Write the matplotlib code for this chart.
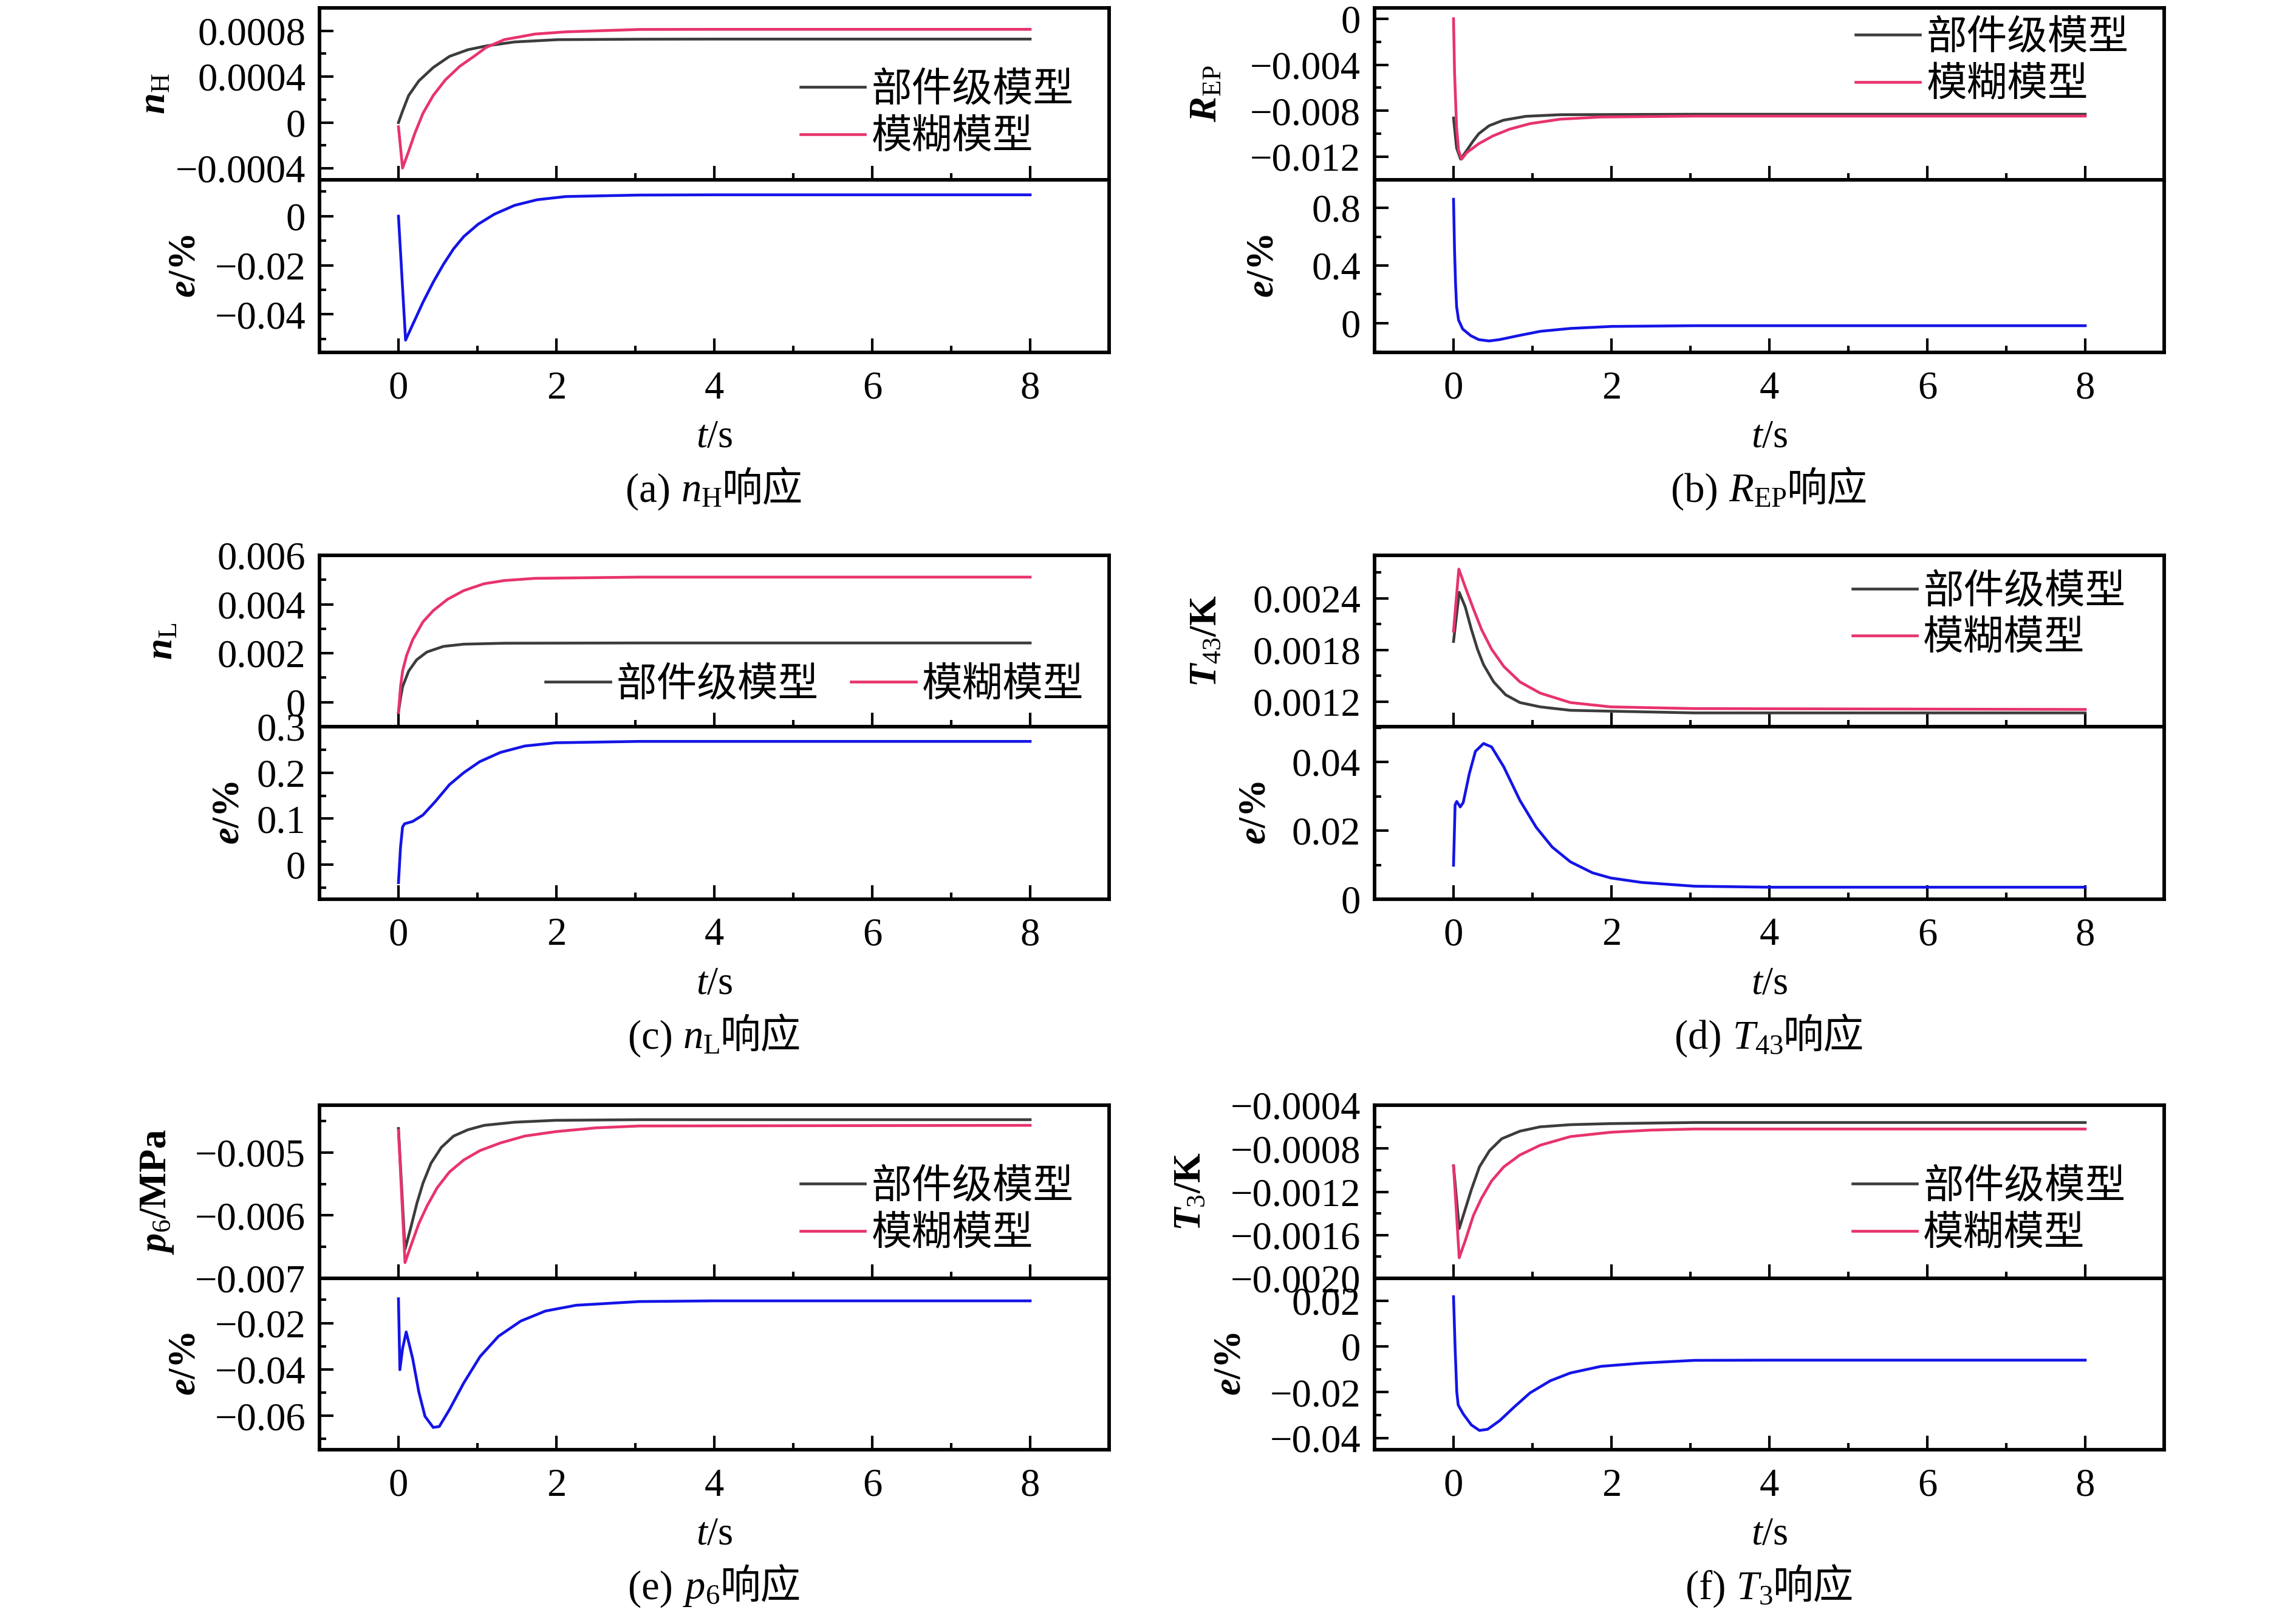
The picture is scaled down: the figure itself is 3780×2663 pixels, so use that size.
import matplotlib
matplotlib.use('Agg')
import matplotlib.pyplot as plt
from matplotlib.ticker import FixedLocator, MultipleLocator, FuncFormatter
from matplotlib.offsetbox import TextArea, HPacker, AnnotationBbox

plt.rcParams['font.family'] = ['Liberation Serif', 'Noto Sans CJK SC']
plt.rcParams['mathtext.fontset'] = 'custom'
plt.rcParams['mathtext.rm'] = 'Liberation Serif'
plt.rcParams['mathtext.it'] = 'Liberation Serif:italic'
plt.rcParams['mathtext.bf'] = 'Liberation Serif:bold'
plt.rcParams['mathtext.bfit'] = 'Liberation Serif:italic:bold'

# ---- data ----
legend_labels = ['部件级模型', '模糊模型']
x_ticks = [0, 2, 4, 6, 8]

# (a) n_H
a_t_comp = [0, 0.052, 0.129, 0.258, 0.44, 0.646, 0.879, 1.11, 1.47, 2.02, 3.05, 4, 8]
a_comp = [0.0, 0.0001, 0.000236, 0.000363, 0.00048, 0.000577, 0.000635, 0.000668, 0.000703,
          0.000723, 0.000727, 0.000728, 0.000728]
a_t_fuzzy = [0, 0.052, 0.129, 0.207, 0.31, 0.44, 0.594, 0.775, 0.956, 1.11, 1.34, 1.73, 2.12, 3.05, 4, 8]
a_fuzzy = [-0.000037, -0.000397, -0.000251, -0.000095, 0.00008, 0.000236, 0.000372, 0.00049,
           0.000577, 0.000655, 0.000723, 0.000772, 0.000791, 0.000812, 0.000813, 0.000813]
a_t_err = [0, 0.09, 0.18, 0.31, 0.44, 0.568, 0.698, 0.827, 1.008, 1.214, 1.47, 1.757, 2.12, 3.05, 4, 8]
a_err = [0.0, -0.0505, -0.0442, -0.0351, -0.0269, -0.0197, -0.0133, -0.0083, -0.0033, 0.0008,
         0.0044, 0.0067, 0.008, 0.0086, 0.0087, 0.0087]
a_top_ticks = [-0.0004, 0, 0.0004, 0.0008]
a_err_ticks = [-0.04, -0.02, 0]

# (b) R_EP
b_t_comp = [0, 0.039, 0.09, 0.168, 0.245, 0.32, 0.45, 0.63, 0.915, 1.35, 3.05, 8]
b_comp = [-0.00863, -0.01124, -0.0122, -0.01144, -0.01066, -0.00999, -0.0093, -0.00882, -0.00848,
          -0.00834, -0.0083, -0.0083]
b_t_fuzzy = [0, 0.013, 0.039, 0.064, 0.103, 0.168, 0.32, 0.5, 0.709, 0.966, 1.35, 1.87, 3.05, 8]
b_fuzzy = [0.0, -0.00467, -0.0095, -0.01144, -0.0122, -0.01163, -0.01086, -0.01018, -0.0096,
           -0.00912, -0.00873, -0.00854, -0.00846, -0.00846]
b_t_err = [0, 0.013, 0.026, 0.039, 0.064, 0.116, 0.22, 0.32, 0.45, 0.58, 0.84, 1.1, 1.48, 2.0, 3.05, 8]
b_err = [0.86, 0.502, 0.268, 0.113, 0.02, -0.042, -0.089, -0.116, -0.125, -0.116, -0.086, -0.058,
         -0.038, -0.024, -0.019, -0.019]
b_top_ticks = [-0.012, -0.008, -0.004, 0]
b_err_ticks = [0, 0.4, 0.8]

# (c) n_L
c_t_comp = [0, 0.026, 0.052, 0.129, 0.23, 0.36, 0.57, 0.827, 1.34, 3.05, 8]
c_comp = [-0.00042, 0.00017, 0.00063, 0.00127, 0.00173, 0.00205, 0.00228, 0.00237, 0.00241,
          0.00242, 0.00242]
c_t_fuzzy = [0, 0.026, 0.052, 0.103, 0.18, 0.31, 0.44, 0.62, 0.827, 1.085, 1.34, 1.73, 3.05, 8]
c_fuzzy = [-0.00042, 0.00063, 0.00127, 0.00191, 0.00255, 0.00328, 0.00374, 0.0042, 0.00456,
           0.00484, 0.00497, 0.00506, 0.00511, 0.00511]
c_t_err = [0, 0.026, 0.052, 0.078, 0.18, 0.31, 0.465, 0.646, 0.827, 1.03, 1.29, 1.6, 1.99, 3.05, 8]
c_err = [-0.039, 0.038, 0.082, 0.089, 0.094, 0.108, 0.137, 0.174, 0.2, 0.224, 0.244, 0.258,
         0.265, 0.268, 0.268]
c_top_ticks = [0, 0.002, 0.004, 0.006]
c_err_ticks = [0, 0.1, 0.2, 0.3]

# (d) T_43
d_t_comp = [0, 0.072, 0.149, 0.226, 0.303, 0.38, 0.508, 0.66, 0.841, 1.097, 1.48, 1.99, 3.05, 8]
d_comp = [0.0019, 0.00247, 0.0023, 0.00204, 0.00181, 0.00163, 0.00143, 0.00128, 0.00119, 0.00114,
          0.0011, 0.00109, 0.00107, 0.00107]
d_t_fuzzy = [0, 0.067, 0.149, 0.251, 0.354, 0.482, 0.636, 0.841, 1.097, 1.48, 1.99, 3.05, 8]
d_fuzzy = [0.00202, 0.00274, 0.00253, 0.00228, 0.00204, 0.00181, 0.00161, 0.00143, 0.0013, 0.00119,
           0.00114, 0.00112, 0.00111]
d_t_err = [0, 0.02, 0.041, 0.085, 0.123, 0.2, 0.277, 0.38, 0.482, 0.636, 0.841, 1.046, 1.25, 1.48,
           1.76, 1.99, 2.38, 3.05, 4, 8]
d_err = [0.0099, 0.0275, 0.0285, 0.0269, 0.0282, 0.0366, 0.0431, 0.0454, 0.0444, 0.0386, 0.0288,
         0.021, 0.0152, 0.0109, 0.0077, 0.0062, 0.0049, 0.0038, 0.0035, 0.0035]
d_top_ticks = [0.0012, 0.0018, 0.0024]
d_err_ticks = [0, 0.02, 0.04]

# (e) p_6
e_t_comp = [0, 0.083, 0.155, 0.233, 0.31, 0.413, 0.543, 0.698, 0.879, 1.085, 1.47, 1.99, 3.05, 8]
e_comp = [-0.00462, -0.00654, -0.0062, -0.00581, -0.00549, -0.00517, -0.00492, -0.00474, -0.00464,
          -0.00457, -0.00452, -0.00449, -0.00448, -0.00448]
e_t_fuzzy = [0, 0.083, 0.155, 0.258, 0.362, 0.491, 0.646, 0.827, 1.034, 1.29, 1.6, 1.99, 2.5, 3.05, 8]
e_fuzzy = [-0.00465, -0.00675, -0.00649, -0.00613, -0.00585, -0.00556, -0.00531, -0.00512, -0.00497,
           -0.00485, -0.00474, -0.00467, -0.00461, -0.00458, -0.00457]
e_t_err = [0, 0.018, 0.052, 0.098, 0.18, 0.258, 0.336, 0.44, 0.517, 0.646, 0.827, 1.034, 1.266, 1.55,
           1.86, 2.25, 3.05, 4, 8]
e_err = [-0.0095, -0.0401, -0.031, -0.0238, -0.0353, -0.0497, -0.0602, -0.065, -0.0646, -0.0573,
         -0.0458, -0.0344, -0.0257, -0.0191, -0.0148, -0.0123, -0.0107, -0.0104, -0.0104]
e_top_ticks = [-0.007, -0.006, -0.005]
e_err_ticks = [-0.06, -0.04, -0.02]

# (f) T_3
f_t_comp = [0, 0.072, 0.149, 0.226, 0.328, 0.456, 0.61, 0.841, 1.097, 1.48, 1.99, 3.05, 8]
f_comp = [-0.00096, -0.00154, -0.00136, -0.00118, -0.00097, -0.00082, -0.00071, -0.00064, -0.0006,
          -0.00058, -0.00057, -0.00056, -0.00056]
f_t_fuzzy = [0, 0.072, 0.149, 0.251, 0.354, 0.482, 0.636, 0.841, 1.097, 1.48, 1.99, 2.5, 3.05, 8]
f_fuzzy = [-0.00096, -0.00181, -0.00165, -0.00142, -0.00126, -0.0011, -0.00097, -0.00086, -0.00077,
           -0.00069, -0.00065, -0.00063, -0.00062, -0.00062]
f_t_err = [0, 0.02, 0.041, 0.059, 0.123, 0.226, 0.328, 0.431, 0.585, 0.764, 0.969, 1.226, 1.48, 1.87,
           2.38, 3.05, 4, 8]
f_err = [0.0217, -0.0006, -0.0198, -0.0256, -0.0295, -0.0343, -0.0367, -0.0362, -0.0324, -0.0266,
         -0.0203, -0.015, -0.0116, -0.0087, -0.0073, -0.0061, -0.006, -0.006]
f_top_ticks = [-0.002, -0.0016, -0.0012, -0.0008, -0.0004]
f_err_ticks = [-0.04, -0.02, 0, 0.02]

# ---- styling ----
C_COMP = '#3c3c3c'
C_FUZZY = '#e8336c'
C_ERR = '#1414e6'
TICK_FS = 15.5
LEG_FS = 16
W, H = 3780, 2663
CJK = 'Noto Sans CJK SC'


def num_fmt(decimals):
    def f(v, pos):
        if abs(v) < 1e-12:
            return '0'
        return '{0:.{1}f}'.format(v, decimals).replace('-', '\u2212')
    return FuncFormatter(f)


def style_axes(ax, yticks, ylim, decimals):
    ax.set_xlim(-1, 9)
    ax.xaxis.set_major_locator(FixedLocator(x_ticks))
    ax.xaxis.set_minor_locator(MultipleLocator(1))
    ax.set_ylim(*ylim)
    ax.yaxis.set_major_locator(FixedLocator(yticks))
    ax.yaxis.set_minor_locator(MultipleLocator((yticks[1] - yticks[0]) / 2))
    ax.yaxis.set_major_formatter(num_fmt(decimals))
    ax.tick_params(which='both', direction='in', top=False, right=False,
                   labelsize=TICK_FS, width=1.0)
    ax.tick_params(which='major', length=5.5)
    ax.tick_params(which='minor', length=2.7)
    ax.tick_params(axis='x', which='major', pad=7.2)
    ax.tick_params(axis='y', which='major', pad=5.5)
    for s in ax.spines.values():
        s.set_linewidth(1.4)


fig = plt.figure(figsize=(W / 300, H / 300), dpi=300)

col_left = [526, 2263]
ax_w = 1300
rows = [(13, 296, 580), (914, 1196, 1480), (1819, 2104, 2386)]


def rect(x0, y_top, y_bot):
    return [x0 / W, 1 - y_bot / H, ax_w / W, (y_bot - y_top) / H]


panels = [
    (0, 0, a_t_comp, a_comp, a_t_fuzzy, a_fuzzy, a_t_err, a_err,
     a_top_ticks, (-0.0005, 0.001), 4, r'$\mathbfit{n}_{\mathrm{H}}$',
     a_err_ticks, (-0.0555, 0.0148), 2, ('(a) ', r'$n_{\mathrm{H}}$', '响应'),
     dict(ncol=1, loc='center right', bbox_to_anchor=(0.955, 0.386)), (-0.185, -0.147)),
    (1, 0, b_t_comp, b_comp, b_t_fuzzy, b_fuzzy, b_t_err, b_err,
     b_top_ticks, (-0.014, 0.00094), 3, r'$\mathbfit{R}_{\mathrm{EP}}$',
     b_err_ticks, (-0.2046, 0.995), 1, ('(b) ', r'$R_{\mathrm{EP}}$', '响应'),
     dict(ncol=1, loc='center right', bbox_to_anchor=(0.955, 0.69)), (-0.19, -0.118)),
    (0, 1, c_t_comp, c_comp, c_t_fuzzy, c_fuzzy, c_t_err, c_err,
     c_top_ticks, (-0.001, 0.006), 3, r'$\mathbfit{n}_{\mathrm{L}}$',
     c_err_ticks, (-0.075, 0.3), 1, ('(c) ', r'$n_{\mathrm{L}}$', '响应'),
     dict(ncol=2, loc='center right', bbox_to_anchor=(0.968, 0.245)), (-0.176, -0.092)),
    (1, 1, d_t_comp, d_comp, d_t_fuzzy, d_fuzzy, d_t_err, d_err,
     d_top_ticks, (0.00091, 0.0029), 4, r'$\mathbfit{T}_{\mathrm{43}}\mathbf{/K}$',
     d_err_ticks, (0, 0.0503), 2, ('(d) ', r'$T_{\mathrm{43}}$', '响应'),
     dict(ncol=1, loc='center right', bbox_to_anchor=(0.951, 0.652)), (-0.19, -0.128)),
    (0, 2, e_t_comp, e_comp, e_t_fuzzy, e_fuzzy, e_t_err, e_err,
     e_top_ticks, (-0.007, -0.00425), 3, r'$\mathbfit{p}_{\mathrm{6}}\mathbf{/MPa}$',
     e_err_ticks, (-0.0746, -0.0007), 2, ('(e) ', r'$p_{\mathrm{6}}$', '响应'),
     dict(ncol=1, loc='center right', bbox_to_anchor=(0.955, 0.395)), (-0.182, -0.147)),
    (1, 2, f_t_comp, f_comp, f_t_fuzzy, f_fuzzy, f_t_err, f_err,
     f_top_ticks, (-0.002, -0.0004), 4, r'$\mathbfit{T}_{\mathrm{3}}\mathbf{/K}$',
     f_err_ticks, (-0.0451, 0.0297), 2, ('(f) ', r'$T_{\mathrm{3}}$', '响应'),
     dict(ncol=1, loc='center right', bbox_to_anchor=(0.951, 0.395)), (-0.21, -0.16)),
]

for (col, row, tc, yc, tf, yf, te, ye, tticks, tlim, tdec, tlabel,
     eticks, elim, edec, cap, leg, lab_x) in panels:
    top, mid, bot = rows[row]
    ax1 = fig.add_axes(rect(col_left[col], top, mid))
    ax2 = fig.add_axes(rect(col_left[col], mid, bot))

    ax1.plot(tc, yc, color=C_COMP, lw=1.1, label=legend_labels[0], solid_joinstyle='round')
    ax1.plot(tf, yf, color=C_FUZZY, lw=1.1, label=legend_labels[1], solid_joinstyle='round')
    style_axes(ax1, tticks, tlim, tdec)
    ax1.tick_params(labelbottom=False)
    ax1.set_ylabel(tlabel, fontsize=15)
    ax1.yaxis.set_label_coords(lab_x[0], 0.5)
    ax1.legend(frameon=False, prop={'family': CJK, 'size': LEG_FS},
               handlelength=1.6, handletextpad=0.15, labelspacing=0.15,
               columnspacing=0.8, borderpad=0, borderaxespad=0, **leg)

    ax2.plot(te, ye, color=C_ERR, lw=1.1, solid_joinstyle='round')
    style_axes(ax2, eticks, elim, edec)
    ax2.set_ylabel(r'$\mathbfit{e}\mathbf{/\%}$', fontsize=15)
    ax2.yaxis.set_label_coords(lab_x[1], 0.5)
    ax2.set_xlabel(r'$t$/s', fontsize=TICK_FS, labelpad=5)

    parts = [TextArea(cap[0], textprops=dict(fontsize=16, family='Liberation Serif')),
             TextArea(cap[1], textprops=dict(fontsize=16)),
             TextArea(cap[2], textprops=dict(fontsize=16, family=CJK))]
    pack = HPacker(children=parts, align='baseline', pad=0, sep=0)
    ab = AnnotationBbox(pack, (0.5, -227 / (bot - mid)), xycoords='axes fraction',
                        frameon=False, box_alignment=(0.5, 0.5), pad=0,
                        annotation_clip=False)
    ax2.add_artist(ab)

fig.savefig('out.png', dpi=300)
